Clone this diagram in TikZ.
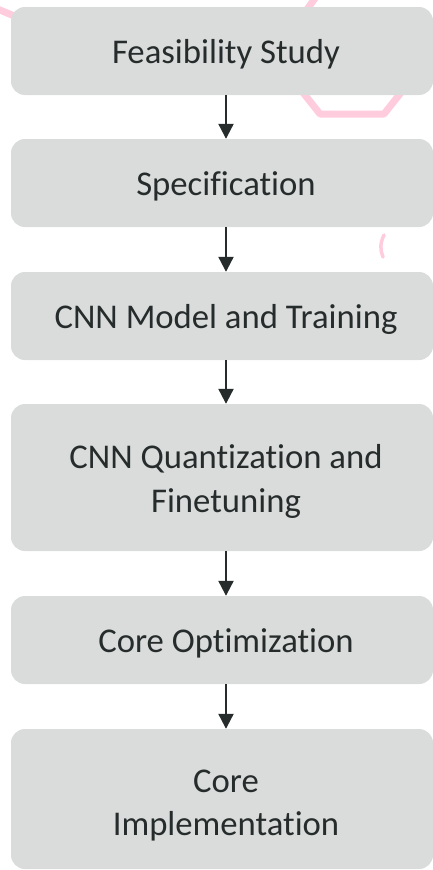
\documentclass[tikz,border=0pt]{standalone}
\usepackage{fontspec}
\setmainfont{Carlito}[RawFeature={-liga;-clig;-dlig}]
\usetikzlibrary{arrows.meta}
\definecolor{boxgrey}{HTML}{D9DCDB}
\definecolor{txtdark}{HTML}{262B2B}
\definecolor{pinkbg}{HTML}{FFCCDE}
\tikzset{
  stage/.style={fill=boxgrey, draw=none, rounded corners=14pt, minimum width=422pt, inner sep=0pt},
  lbl/.style={text=txtdark, font=\fontsize{34.7}{43.5}\selectfont, align=center, inner sep=0pt, anchor=base},
  arr/.style={draw=txtdark, line width=2.2pt, -{Triangle[width=15pt,length=15pt]}},
  deco/.style={draw=pinkbg, line join=round, line cap=round}
}
\begin{document}
\begin{tikzpicture}[x=1pt,y=-1pt]
\useasboundingbox (0,0) rectangle (433,870);
\clip (0,0) rectangle (433,870);
% background decorations
\draw[deco, line width=7pt] (318,-6) -- (274,56) -- (320,114) -- (384,114) -- (430,56);
\draw[deco, line width=7pt] (-5,8) -- (24,20);
\draw[deco, line width=3.5pt] (384,235) .. controls (380,243) and (380,250) .. (383,257);
% boxes
\node[stage, minimum height=88pt] (b1) at (222,51) {};
\node[stage, minimum height=88pt] (b2) at (222,183) {};
\node[stage, minimum height=88pt] (b3) at (222,316) {};
\node[stage, minimum height=147pt] (b4) at (222,477.5) {};
\node[stage, minimum height=88pt] (b5) at (222,640) {};
\node[stage, minimum height=140pt] (b6) at (222,799) {};
% labels
\node[lbl] (t1) at (226,63) {Feasibility Study};
\node[lbl] (t2) at (226,195) {Specification};
\node[lbl] (t3) at (226,328) {CNN Model and Training};
\node[lbl] (t4) at (226,512) {CNN Quantization and\\Finetuning};
\node[lbl] (t5) at (226,652) {Core Optimization};
\node[lbl] (t6) at (226,835.5) {Core\\Implementation};
% arrows
\draw[arr] (b1.south -| t1) -- (b2.north -| t2);
\draw[arr] (b2.south -| t2) -- (b3.north -| t3);
\draw[arr] (b3.south -| t3) -- (b4.north -| t4);
\draw[arr] (b4.south -| t4) -- (b5.north -| t5);
\draw[arr] (b5.south -| t5) -- (b6.north -| t6);
\end{tikzpicture}
\end{document}
